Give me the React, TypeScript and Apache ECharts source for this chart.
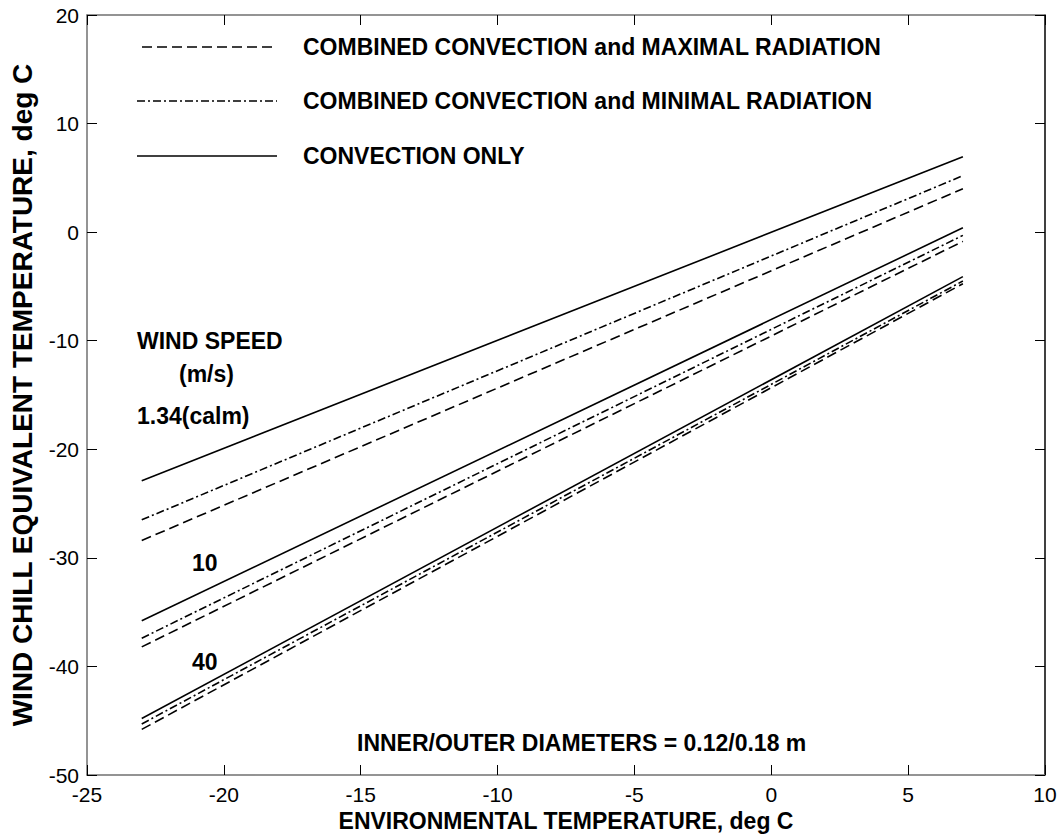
import React, { useEffect, useRef } from "react";
import * as echarts from "echarts";

const xRange = [-23, 7];
const calmConvection = [-22.9, 6.95];
const calmMinRad = [-26.5, 5.2];
const calmMaxRad = [-28.4, 4.0];
const w10Convection = [-35.8, 0.4];
const w10MinRad = [-37.4, -0.3];
const w10MaxRad = [-38.2, -0.85];
const w40Convection = [-44.8, -4.1];
const w40MinRad = [-45.3, -4.5];
const w40MaxRad = [-45.8, -4.75];

const legendNames = [
  "COMBINED CONVECTION and MAXIMAL RADIATION",
  "COMBINED CONVECTION and MINIMAL RADIATION",
  "CONVECTION ONLY",
];
const windLabels = ["WIND SPEED", "(m/s)", "1.34(calm)", "10", "40"];
const noteText = "INNER/OUTER DIAMETERS = 0.12/0.18 m";

const DASH = [10, 5];
const DASHDOT = [8, 3, 2, 3];
const FONT = "'Liberation Sans', Arial, sans-serif";

function mk(vals: number[], type: any) {
  return {
    type: "line",
    data: xRange.map((x, i) => [x, vals[i]]),
    showSymbol: false,
    symbol: "none",
    lineStyle: { color: "#000", width: 1.6, type },
    silent: true,
  };
}

export default function App() {
  const ref = useRef<HTMLDivElement>(null);
  useEffect(() => {
    const chart = echarts.init(ref.current!, null, { renderer: "svg" });
    const axisCommon = {
      axisTick: { inside: true, length: 10, lineStyle: { color: "#000" } },
      splitLine: { show: false },
    };
    const legendY = [47, 101, 156];
    const legendTypes: any[] = [DASH, DASHDOT, "solid"];
    const graphic: any[] = [];
    legendNames.forEach((n, i) => {
      graphic.push({
        type: "line",
        shape: { x1: i === 0 ? 142 : 137, y1: legendY[i], x2: 277, y2: legendY[i] },
        style: { stroke: "#000", lineWidth: 1.6, lineDash: legendTypes[i] === "solid" ? null : legendTypes[i] },
      });
      graphic.push({
        type: "text",
        x: 303,
        y: legendY[i],
        style: { text: n, font: `bold 23px ${FONT}`, fill: "#000", textVerticalAlign: "middle" },
      });
    });
    const wl = [
      [137, 341],
      [179, 374],
      [137, 416],
      [192, 563],
      [192, 662],
    ];
    windLabels.forEach((t, i) => {
      graphic.push({
        type: "text",
        x: wl[i][0],
        y: wl[i][1],
        style: { text: t, font: `bold 23px ${FONT}`, fill: "#000", textVerticalAlign: "middle" },
      });
    });
    graphic.push({
      type: "text",
      x: 357,
      y: 743,
      style: { text: noteText, font: `bold 23px ${FONT}`, fill: "#000", textVerticalAlign: "middle" },
    });

    chart.setOption({
      animation: false,
      backgroundColor: "#fff",
      grid: { left: 83, right: 18, top: 15, bottom: 63, show: false },
      xAxis: [
        {
          type: "value",
          min: -25,
          max: 10,
          interval: 5,
          position: "bottom",
          name: "ENVIRONMENTAL TEMPERATURE, deg C",
          nameLocation: "middle",
          nameGap: 34,
          nameTextStyle: { fontFamily: FONT, fontWeight: "bold", fontSize: 23, color: "#000" },
          axisLine: { onZero: false, lineStyle: { color: "#707070", width: 1.5 } },
          axisLabel: { fontFamily: FONT, fontSize: 21, color: "#000", margin: 9 },
          ...axisCommon,
        },
        {
          type: "value",
          min: -25,
          max: 10,
          interval: 5,
          position: "top",
          axisLine: { onZero: false, lineStyle: { color: "#707070", width: 1.5 } },
          axisLabel: { show: false },
          ...axisCommon,
        },
      ],
      yAxis: [
        {
          type: "value",
          min: -50,
          max: 20,
          interval: 10,
          position: "left",
          name: "WIND CHILL EQUIVALENT TEMPERATURE, deg C",
          nameLocation: "middle",
          nameGap: 51,
          nameTextStyle: { fontFamily: FONT, fontWeight: "bold", fontSize: 28, color: "#000" },
          axisLine: { onZero: false, lineStyle: { color: "#707070", width: 1.5 } },
          axisLabel: { fontFamily: FONT, fontSize: 21, color: "#000", margin: 8 },
          ...axisCommon,
        },
        {
          type: "value",
          min: -50,
          max: 20,
          interval: 10,
          position: "right",
          axisLine: { onZero: false, lineStyle: { color: "#000", width: 1.5 } },
          axisLabel: { show: false },
          ...axisCommon,
        },
      ],
      series: [
        mk(calmConvection, "solid"),
        mk(calmMinRad, DASHDOT),
        mk(calmMaxRad, DASH),
        mk(w10Convection, "solid"),
        mk(w10MinRad, DASHDOT),
        mk(w10MaxRad, DASH),
        mk(w40Convection, "solid"),
        mk(w40MinRad, DASHDOT),
        mk(w40MaxRad, DASH),
      ],
      graphic,
    });
    return () => chart.dispose();
  }, []);
  return (
    <div
      ref={ref}
      style={{ position: "fixed", left: 0, top: 0, width: 1063, height: 838, background: "#fff" }}
    />
  );
}
